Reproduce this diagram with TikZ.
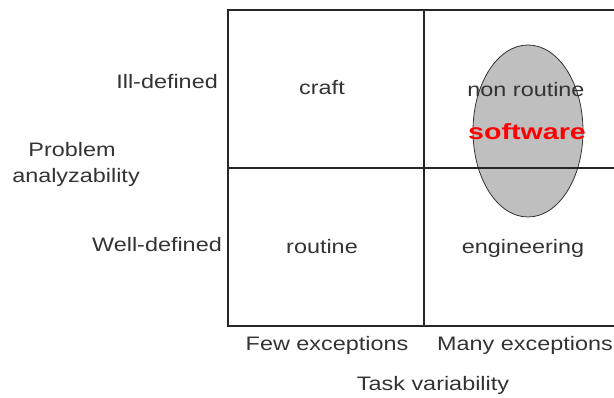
\documentclass[tikz,border=0pt]{standalone}
\usepackage{fontspec}
\setmainfont{Liberation Sans}[FakeStretch=1.2]
\newfontfamily\softfont{Liberation Sans}[FakeStretch=1.3]
\usetikzlibrary{shapes.geometric}
\begin{document}
\begin{tikzpicture}[x=1pt,y=-1pt,
  grid/.style={line width=1.6pt,draw=black!85},
  lbl/.style={inner sep=0pt,font=\fontsize{19.5}{22}\selectfont,text=black!80},
  soft/.style={inner sep=0pt,font=\softfont\fontsize{22}{24}\selectfont\bfseries,text=red}]
\useasboundingbox (0,0) rectangle (614,397);
\node[ellipse,draw=black!80,line width=0.8pt,fill=black!25,minimum width=110pt,minimum height=172pt,inner sep=0pt] (ell) at (528,131) {};
\coordinate (tl) at (228,10);
\coordinate (tm) at (424,10);
\coordinate (tr) at (614,10);
\coordinate (ml) at (228,168);
\coordinate (mr) at (614,168);
\coordinate (bl) at (228,326);
\coordinate (bm) at (424,326);
\coordinate (br) at (614,326);
\draw[grid] (tr) -- (tl) -- (bl) -- (br);
\draw[grid] (tm) -- (bm);
\draw[grid] (ml) -- (mr);
\node[lbl] (craft) at (322,88) {craft};
\node[lbl] (routine) at (322,247) {routine};
\node[lbl] (nonroutine) at (526,90) {non routine};
\node[soft] (software) at (527,132) {software};
\node[lbl] (eng) at (523,248) {engineering};
\node[lbl,anchor=east] (ill) at (218,82) {Ill-defined};
\node[lbl,anchor=east] (well) at (222,245) {Well-defined};
\node[lbl] (prob) at (72,150) {Problem};
\node[lbl] (anal) at (76,177) {analyzability};
\node[lbl] (few) at (327,345) {Few exceptions};
\node[lbl,anchor=west] (many) at (437,345) {Many exceptions};
\node[lbl] (task) at (433,385) {Task variability};
\end{tikzpicture}
\end{document}
